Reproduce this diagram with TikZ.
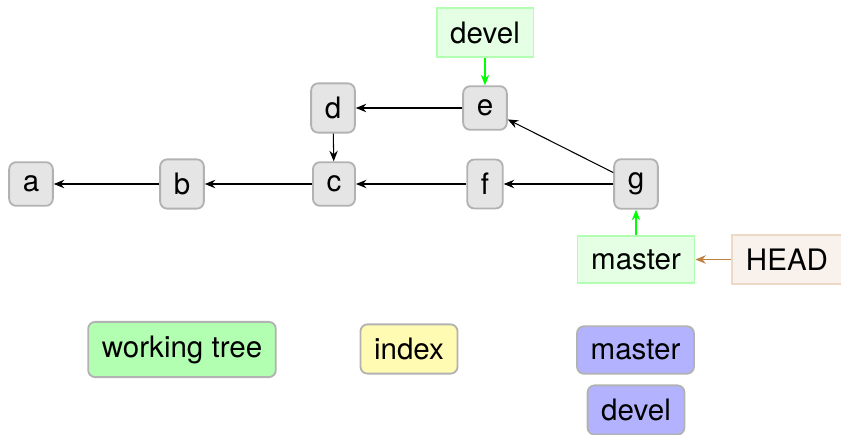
\documentclass[tikz,border=0pt]{standalone}
\usepackage{fontspec}
\setmainfont{TeX Gyre Heros}
\usetikzlibrary{arrows.meta}

\begin{document}
\begin{tikzpicture}[x=0.025cm, y=-0.025cm,
	font=\fontsize{21}{25}\selectfont,
	commit/.style={draw=black!30, fill=black!10, line width=1.3pt, rounded corners=5pt, inner sep=9.7pt},
	branch/.style={draw=green!30, fill=green!10, line width=1.3pt, inner sep=9.7pt},
	headref/.style={draw=brown!30, fill=brown!10, line width=1.3pt, inner sep=9.7pt},
	legend/.style={draw=black!30, line width=1.3pt, rounded corners=5pt, inner sep=9.7pt},
	parent/.style={-{Stealth[length=7.5pt, width=6pt, inset=2.5pt]}, line width=0.75pt}]
			%%%%% START %%%%%
			
			\useasboundingbox (0, 0) rectangle (841, 434);
			
			\node[commit] (a) at (31, 184) {a};
			\node[commit] (b) at (182, 184) {b};
			\node[commit] (c) at (334, 184) {c};
			\node[commit] (d) at (333, 108) {d};
			\node[commit] (e) at (485, 108) {e};
			\node[commit] (f) at (485, 184) {f};
			\node[commit] (g) at (636, 184) {g};
			
			\node[branch] (develref) at (485, 32.5) {devel};
			\node[branch] (masterref) at (636, 259.5) {master};
			\node[headref] (head) at (787, 259.5) {HEAD};
			
			\draw[parent] (b) -- (a);
			\draw[parent] (c) -- (b);
			\draw[parent] (d) -- (c);
			\draw[parent] (e) -- (d);
			\draw[parent] (f) -- (c);
			\draw[parent] (g) -- (f);
			\draw[parent] (g) -- (e);
			
			\draw[parent, green] (develref) -- (e);
			\draw[parent, green] (masterref) -- (g);
			\draw[parent, brown] (head) -- (masterref);
			
			\node[legend, fill=green!30] (worktree) at (182, 349.5) {working tree};
			\node[legend, fill=yellow!30] (index) at (409, 349) {index};
			\node[legend, fill=blue!30] (masterlocal) at (635.5, 350) {master};
			\node[legend, fill=blue!30] (devellocal) at (636, 410) {devel};
			
			%%%%% END %%%%%
		\end{tikzpicture}
\end{document}
